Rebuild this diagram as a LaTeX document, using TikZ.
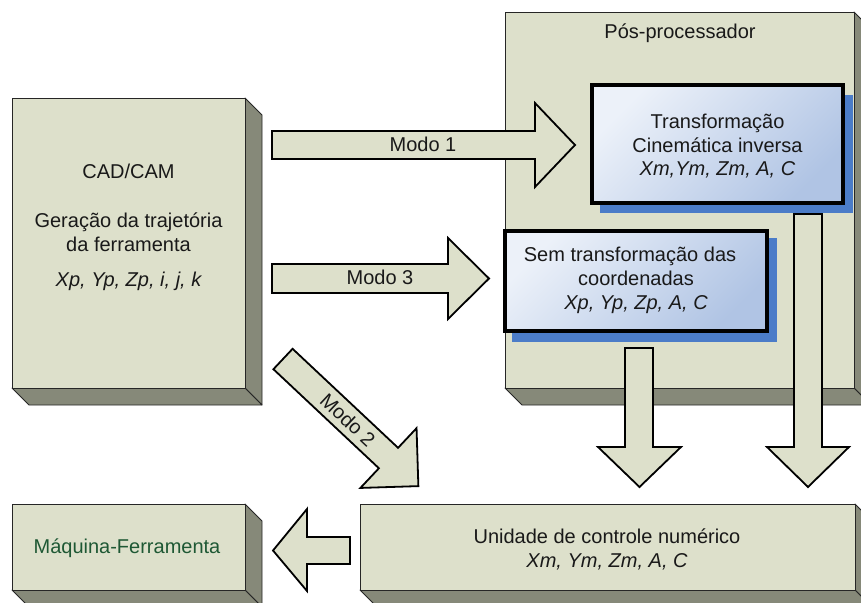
\documentclass[tikz,border=0pt]{standalone}
\usepackage{fontspec}
\setmainfont{Liberation Sans}
\definecolor{boxfill}{RGB}{221,224,203}
\definecolor{bevel}{RGB}{134,137,121}
\definecolor{shadowblue}{RGB}{75,124,200}
\definecolor{bluelight}{RGB}{236,241,249}
\definecolor{bluedark}{RGB}{176,196,228}
\definecolor{mgreen}{RGB}{30,88,52}
\tikzset{
  front/.style={fill=boxfill, draw=black!85, line width=0.8pt},
  side/.style={fill=bevel, draw=black!85, line width=0.8pt, line join=round},
  blockarrow/.style={fill=boxfill, draw=black, line width=1.8pt, line join=miter},
  bluebox/.style={draw=black, line width=3.5pt, top color=bluelight, bottom color=bluedark, shading angle=45},
  blueshadow/.style={fill=shadowblue},
  lbl/.style={font=\fontsize{20}{24}\selectfont, inner sep=0pt, anchor=base, text=black!90},
}
\newcommand\bevelbox[4]{%
  \path[side] (#3,#2) -- ({#3+17},{#2+17}) -- ({#3+17},{#4+17}) -- (#3,#4) -- cycle;
  \path[side] (#1,#4) -- (#3,#4) -- ({#3+17},{#4+17}) -- ({#1+17},{#4+17}) -- cycle;
  \path[front] (#1,#2) rectangle (#3,#4);
}
\begin{document}
\begin{tikzpicture}[x=1pt,y=-1pt]
\useasboundingbox (0,0) rectangle (861,602);
\clip (0,0) rectangle (861,602);
\fill[white] (0,0) rectangle (861,602);

% Pos-processador
\bevelbox{505}{12}{854}{388}
% CAD/CAM
\bevelbox{12}{98}{245}{388}
% Maquina-Ferramenta
\bevelbox{12}{504}{245}{590}
% Unidade
\bevelbox{360}{504}{855}{590}

% blue boxes
\path[blueshadow] (600,95) rectangle (853,213);
\path[bluebox] (592,85) rectangle (843,203);
\path[blueshadow] (512,238) rectangle (777,342);
\path[bluebox] (505,231) rectangle (767,331);

% Modo 1 arrow
\path[blockarrow] (272,131) -- (535,131) -- (535,103) -- (575,145) -- (535,187) -- (535,159) -- (272,159) -- cycle;
% Modo 3 arrow
\path[blockarrow] (272,264) -- (448,264) -- (448,238) -- (489,278.5) -- (448,319) -- (448,293) -- (272,293) -- cycle;
% Modo 2 arrow
\begin{scope}[shift={(283,359)}, rotate=-43.2]
  \path[blockarrow] (0,-14) -- (144.7,-14) -- (144.7,-41) -- (185.7,0) -- (144.7,41) -- (144.7,14) -- (0,14) -- cycle;
  \node[font=\fontsize{20}{24}\selectfont, inner sep=0pt, rotate=-43.2, text=black!90] (m2) at (89,0) {Modo 2};
\end{scope}
% down arrows
\path[blockarrow] (625,348) -- (653,348) -- (653,447) -- (681,447) -- (639.5,487) -- (598,447) -- (625,447) -- cycle;
\path[blockarrow] (794,214) -- (822,214) -- (822,447) -- (849,447) -- (808,487) -- (767,447) -- (794,447) -- cycle;
% left arrow
\path[blockarrow] (350,537) -- (307,537) -- (307,509) -- (273,550.5) -- (307,591) -- (307,564) -- (350,564) -- cycle;

% texts
\node[lbl] (pos) at (680,38) {Pós-processador};
\node[lbl] (t1) at (717.5,128) {Transformação};
\node[lbl] (t2) at (717.5,152) {Cinemática inversa};
\node[lbl] (t3) at (717.5,175) {\itshape Xm,Ym, Zm, A, C};
\node[lbl] (s1) at (630,261) {Sem transformação das};
\node[lbl] (s2) at (636,285) {coordenadas};
\node[lbl] (s3) at (636,309) {\itshape Xp, Yp, Zp, A, C};
\node[lbl] (c1) at (128.5,178) {CAD/CAM};
\node[lbl] (c2) at (128.5,227) {Geração da trajetória};
\node[lbl] (c3) at (128.5,251) {da ferramenta};
\node[lbl] (c4) at (128.5,286) {\itshape Xp, Yp, Zp, i, j, k};
\node[lbl] (m1) at (423,151) {Modo 1};
\node[lbl] (m3) at (380,284) {Modo 3};
\node[lbl, text=mgreen] (maq) at (127,553) {Máquina-Ferramenta};
\node[lbl] (u1) at (607,543) {Unidade de controle numérico};
\node[lbl] (u2) at (607,567) {\itshape Xm, Ym, Zm, A, C};
\end{tikzpicture}
\end{document}
